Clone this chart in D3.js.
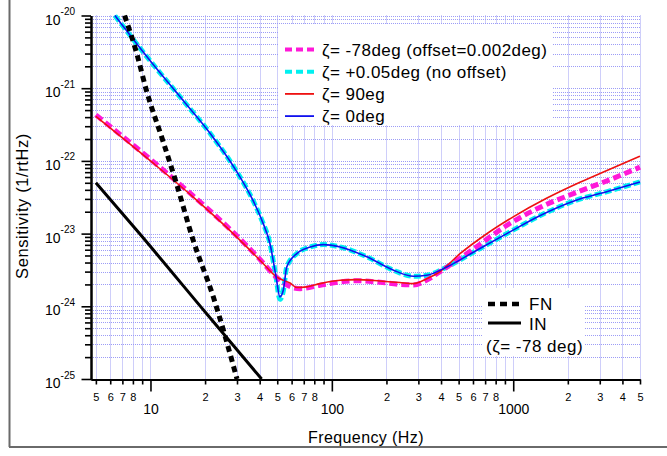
<!DOCTYPE html>
<html>
<head>
<meta charset="utf-8">
<script src="https://cdn.jsdelivr.net/npm/d3@7"></script>
<style>
  html, body { margin: 0; padding: 0; background: #fff; }
  svg { display: block; font-family: "Liberation Sans", Arial, sans-serif; }
</style>
</head>
<body>
<svg id="chart" width="667" height="456"></svg>
<script>
// ---------------- data ----------------
const fnFreq = [7.2, 8.4, 9.5, 11.7, 13.9, 17.2, 22.2, 30];
const fnVal  = [1e-20, 3.0e-21, 9.3e-22, 1.9e-22, 4.9e-23, 8.1e-24, 1.35e-24, 1.0e-25];

const inFreq = [5, 8.7, 20.4, 41];
const inVal  = [5.0e-23, 1.0e-23, 7.9e-25, 1.0e-25];

const redFreq = [5, 10, 17.2, 28.6, 40.2, 49.6, 58.8, 64.1, 72.5, 86.1, 111, 137, 184, 237, 282, 334, 395, 509, 699, 1000, 1535, 2333, 3287, 5000];
const redVal  = [4.1e-22, 1.0e-22, 3.18e-23, 1.0e-23, 4.3e-24, 2.53e-24, 2.09e-24, 1.81e-24, 1.85e-24, 2.05e-24, 2.28e-24, 2.33e-24, 2.23e-24, 2.12e-24, 2.05e-24, 2.4e-24, 3.0e-24, 5.29e-24, 9.57e-24, 1.70e-23, 3.08e-23, 5.08e-23, 7.40e-23, 1.16e-22];

const pinkFreq = [5, 10, 17.2, 28.6, 40.2, 49.6, 60, 66.9, 86.1, 111, 137, 184, 237, 282, 334, 395, 606, 922, 1419, 2145, 3339, 5000];
const pinkVal  = [4.3e-22, 1.05e-22, 3.3e-23, 1.04e-23, 4.4e-24, 2.5e-24, 1.83e-24, 1.75e-24, 1.95e-24, 2.17e-24, 2.25e-24, 2.14e-24, 2.0e-24, 1.97e-24, 2.3e-24, 3.0e-24, 6.2e-24, 1.3e-23, 2.32e-23, 3.55e-23, 5.4e-23, 8.2e-23];

const blueFreq = [6.36, 9.91, 15.1, 21.3, 29.6, 36.7, 41.2, 45.6, 49.3, 51.7, 54, 56.4, 64.1, 76, 89.8, 111, 156, 219, 282, 334, 430, 606, 922, 1419, 2145, 3339, 5000];
const blueVal  = [1.0e-20, 2.42e-21, 6.82e-22, 2.4e-22, 7.41e-23, 2.88e-23, 1.51e-23, 7.24e-24, 2.51e-24, 1.35e-24, 1.66e-24, 3.47e-24, 5.31e-24, 6.55e-24, 7.06e-24, 6.55e-24, 4.79e-24, 3.13e-24, 2.59e-24, 2.67e-24, 3.47e-24, 5.58e-24, 1.0e-23, 1.79e-23, 2.79e-23, 3.82e-23, 5.13e-23];

const cyanFreq = [6.36, 9.91, 15.1, 21.3, 29.6, 36.7, 41.2, 45.6, 49.3, 51.7, 54, 56.4, 64.1, 76, 89.8, 111, 156, 219, 282, 334, 430, 606, 922, 1419, 2145, 3339, 5000];
const cyanVal  = [1.0e-20, 2.42e-21, 6.82e-22, 2.4e-22, 7.41e-23, 2.88e-23, 1.51e-23, 7.24e-24, 2.45e-24, 1.25e-24, 1.62e-24, 3.47e-24, 5.31e-24, 6.55e-24, 7.06e-24, 6.55e-24, 4.79e-24, 3.13e-24, 2.59e-24, 2.67e-24, 3.47e-24, 5.58e-24, 1.0e-23, 1.79e-23, 2.79e-23, 3.82e-23, 5.13e-23];

const xMinorTicks = [5,6,7,8,9,20,30,40,50,60,70,80,90,200,300,400,500,600,700,800,900,2000,3000,4000,5000];
const xMinorLabeled = [5,6,7,8,20,30,40,50,60,70,80,200,300,400,500,600,700,800,2000,3000,4000,5000];
const xMajorTicks = [10, 100, 1000];
const yMajorTicks = [1e-25, 1e-24, 1e-23, 1e-22, 1e-21, 1e-20];
const yMinorMult = [2,3,4,5,6,7,8,9];

const legendLabels = ["ζ= -78deg (offset=0.002deg)", "ζ= +0.05deg (no offset)", "ζ= 90eg", "ζ= 0deg"];
const legend2Labels = ["FN", "IN", "(ζ= -78 deg)"];
const xTitle = "Frequency (Hz)";
const yTitle = "Sensitivity (1/rtHz)";

// ---------------- layout ----------------
const svg = d3.select("#chart");
const L = 91, R = 640, T = 15.5, B = 379;
const x = d3.scaleLog().domain([4.7, 5000]).range([L, R]);
const y = d3.scaleLog().domain([1e-25, 1e-20]).range([B, T]);

svg.append("rect").attr("width", 667).attr("height", 456).attr("fill", "#fff");

// outer frame (only left and bottom visible)
svg.append("line").attr("x1", 9.5).attr("x2", 9.5).attr("y1", 0).attr("y2", 447)
  .attr("stroke", "#6a6a6a").attr("stroke-width", 2);
svg.append("line").attr("x1", 9).attr("x2", 667).attr("y1", 447).attr("y2", 447)
  .attr("stroke", "#6a6a6a").attr("stroke-width", 2);

// grid
const yMinorTicks = [];
yMajorTicks.slice(0, -1).forEach(d => yMinorMult.forEach(m => yMinorTicks.push(d * m)));
const gridX = xMinorTicks.concat(xMajorTicks);
const gridY = yMajorTicks.concat(yMinorTicks);
const grid = svg.append("g").attr("stroke", "#8484f4").attr("stroke-width", 1)
  .attr("stroke-dasharray", "1,1").attr("opacity", 0.8);
grid.selectAll("line.gx").data(gridX).join("line")
  .attr("x1", d => Math.round(x(d)) + 0.5).attr("x2", d => Math.round(x(d)) + 0.5)
  .attr("y1", T).attr("y2", B);
grid.selectAll("line.gy").data(gridY).join("line")
  .attr("y1", d => Math.round(y(d)) + 0.5).attr("y2", d => Math.round(y(d)) + 0.5)
  .attr("x1", L).attr("x2", R + 1);

// legend backgrounds
svg.append("rect").attr("x", 279).attr("y", 24).attr("width", 274).attr("height", 101).attr("fill", "#fff");
svg.append("rect").attr("x", 483).attr("y", 288).attr("width", 102).attr("height", 68).attr("fill", "#fff");

// curves
svg.append("clipPath").attr("id", "clip").append("rect")
  .attr("x", L).attr("y", T - 1).attr("width", R - L + 2).attr("height", B - T + 2);
const plot = svg.append("g").attr("clip-path", "url(#clip)");
const zip = (a, b) => a.map((f, i) => [f, b[i]]);
const line = d3.line().x(d => x(d[0])).y(d => y(d[1])).curve(d3.curveMonotoneX);

const styles = {
  cyan: { stroke: "#00f0f0", width: 5, dash: "7,3" },
  pink: { stroke: "#ff18d8", width: 5, dash: "8,4" },
  red:  { stroke: "#ee1111", width: 1.6, dash: null },
  blue: { stroke: "#1010ee", width: 1.6, dash: null },
  fn:   { stroke: "#000", width: 5, dash: "6,4.5" },
  in:   { stroke: "#000", width: 3, dash: null }
};
function drawCurve(data, st) {
  plot.append("path").attr("d", line(data)).attr("fill", "none")
    .attr("stroke", st.stroke).attr("stroke-width", st.width)
    .attr("stroke-dasharray", st.dash);
}
drawCurve(zip(cyanFreq, cyanVal), styles.cyan);
drawCurve(zip(pinkFreq, pinkVal), styles.pink);
drawCurve(zip(redFreq, redVal), styles.red);
drawCurve(zip(blueFreq, blueVal), styles.blue);
drawCurve(zip(fnFreq, fnVal), styles.fn);
drawCurve(zip(inFreq, inVal), styles.in);

// axes
const axisStyle = g => {
  g.selectAll("path.domain").attr("stroke", "#000").attr("stroke-width", 2);
  g.selectAll(".tick line").attr("stroke", "#000").attr("stroke-width", 1.6);
};
const xMinorAxis = svg.append("g").attr("transform", `translate(0,${B + 0.5})`)
  .call(d3.axisBottom(x).tickValues(xMinorTicks).tickSize(5).tickSizeOuter(0).tickPadding(8.5)
    .tickFormat(d => xMinorLabeled.includes(d) ? String(d).charAt(0) : ""))
  .call(axisStyle);
xMinorAxis.selectAll(".tick text").attr("font-size", 11).attr("fill", "#000")
  .attr("font-family", "Liberation Sans, Arial, sans-serif");
const xMajorAxis = svg.append("g").attr("transform", `translate(0,${B + 0.5})`)
  .call(d3.axisBottom(x).tickValues(xMajorTicks).tickSize(12).tickSizeOuter(0).tickPadding(12.5)
    .tickFormat(d => String(d)))
  .call(axisStyle);
xMajorAxis.selectAll(".tick text").attr("font-size", 14).attr("fill", "#000")
  .attr("font-family", "Liberation Sans, Arial, sans-serif");

svg.append("g").attr("transform", `translate(${L},0)`)
  .call(d3.axisLeft(y).tickValues(yMinorTicks).tickSize(6).tickSizeOuter(0).tickFormat(() => ""))
  .call(axisStyle);
const yMajorAxis = svg.append("g").attr("transform", `translate(${L},0)`)
  .call(d3.axisLeft(y).tickValues(yMajorTicks).tickSize(9.5).tickSizeOuter(0).tickFormat(() => ""))
  .call(axisStyle);
yMajorAxis.selectAll(".tick text").each(function (d) {
  const t = d3.select(this);
  t.text(null).attr("x", -16).attr("dy", null).attr("y", 8.5)
    .attr("font-size", 14).attr("fill", "#000").attr("font-family", "Liberation Sans, Arial, sans-serif");
  t.append("tspan").text("10");
  t.append("tspan").attr("dy", -9.5).attr("font-size", 10).text(Math.round(Math.log10(d)));
});

// axis titles
svg.append("text").attr("x", 366).attr("y", 443).attr("text-anchor", "middle")
  .attr("font-size", 16).attr("letter-spacing", 0.4).attr("fill", "#000").text(xTitle);
svg.append("text").attr("transform", "translate(28,206) rotate(-90)").attr("text-anchor", "middle")
  .attr("font-size", 16.5).attr("letter-spacing", 0.6).attr("fill", "#000").text(yTitle);

// legend 1
const leg1Styles = [styles.pink, styles.cyan, styles.red, styles.blue];
const leg1 = svg.append("g");
legendLabels.forEach((lab, i) => {
  const yy = 49.5 + i * 22.2;
  const st = leg1Styles[i];
  leg1.append("line").attr("x1", 285).attr("x2", 314).attr("y1", yy).attr("y2", yy)
    .attr("stroke", st.stroke).attr("stroke-width", st.width === 5 ? 4 : 1.8)
    .attr("stroke-dasharray", st.dash ? "7,4" : null);
  leg1.append("text").attr("x", 322).attr("y", yy + 6).attr("font-size", 17)
    .attr("letter-spacing", 0.45).attr("fill", "#000").text(lab);
});

// legend 2
const leg2 = svg.append("g");
leg2.append("line").attr("x1", 488).attr("x2", 519).attr("y1", 304).attr("y2", 304)
  .attr("stroke", "#000").attr("stroke-width", 4.5).attr("stroke-dasharray", "7,5");
leg2.append("line").attr("x1", 488).attr("x2", 521).attr("y1", 323).attr("y2", 323)
  .attr("stroke", "#000").attr("stroke-width", 3);
leg2.selectAll("text").data(legend2Labels).join("text")
  .attr("x", (d, i) => i < 2 ? 529 : 486)
  .attr("y", (d, i) => [309.5, 329.5, 351.5][i])
  .attr("font-size", 17).attr("letter-spacing", 0.5).attr("fill", "#000")
  .text(d => d);
</script>
</body>
</html>
